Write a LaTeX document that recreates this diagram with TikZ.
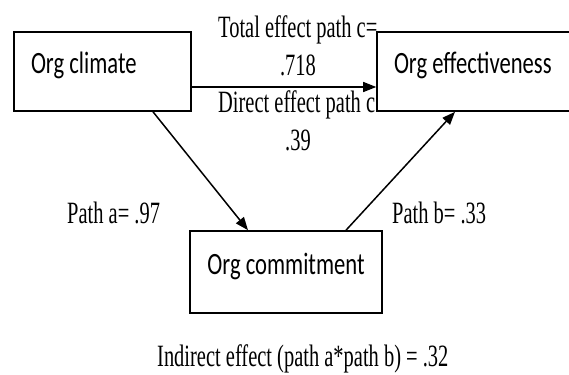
\documentclass[tikz,border=0pt]{standalone}
\usepackage{fontspec}
\newfontfamily\boxfont[FakeStretch=0.73]{Carlito}
\newfontfamily\pathfont[FakeStretch=0.66]{Liberation Serif}
\usetikzlibrary{arrows.meta}

\begin{document}
\begin{tikzpicture}[
    x=1pt,
    y=-1pt,
    >={Triangle[length=13pt,width=10pt]},
    construct/.style={draw, line width=1.6pt, minimum height=79pt, inner xsep=17pt, inner ysep=0pt, text height=21pt, text depth=16pt, font=\boxfont\fontsize{31}{33}\selectfont},
    pathlbl/.style={inner sep=0pt, font=\pathfont\fontsize{31}{33}\selectfont},
    link/.style={->, line width=1.5pt}
]
\useasboundingbox (0,0) rectangle (569,374);

% --- Constructos ---
\node[construct] (clim) at (102.5,71.5) {\makebox[143pt][l]{Org climate}};
\node[construct] (effe) at (487,71.5) {\makebox[186pt][l]{Org effectiveness}};
\node[construct, minimum width=192pt, minimum height=82pt] (comm) at (286,272) {Org commitment};

% --- Caminos ---
\draw[link] ([yshift=-15.5pt]clim.east) -- ([yshift=-15.5pt]clim.east -| effe.west);
\draw[link] ([xshift=50.5pt]clim.south) -- ([xshift=-38pt]comm.north);
\draw[link] ([xshift=60pt]comm.north) -- ([xshift=-32pt]effe.south);

% --- Coeficientes ---
\node[pathlbl, anchor=base west] (tot)  at (218,38)  {Total effect path c=};
\node[pathlbl, anchor=base]      (totv) at (298,76)  {.718};
\node[pathlbl, anchor=base west] (dir)  at (218,113) {Direct effect path c};
\node[pathlbl, anchor=base]      (dirv) at (298,150) {.39};
\node[pathlbl, anchor=base west] (pa)   at (67,223)  {Path a= .97};
\node[pathlbl, anchor=base west] (pb)   at (392,223) {Path b= .33};
\node[pathlbl, anchor=base west] (ind)  at (157,366) {Indirect effect (path a*path b) = .32};

\end{tikzpicture}
\end{document}
